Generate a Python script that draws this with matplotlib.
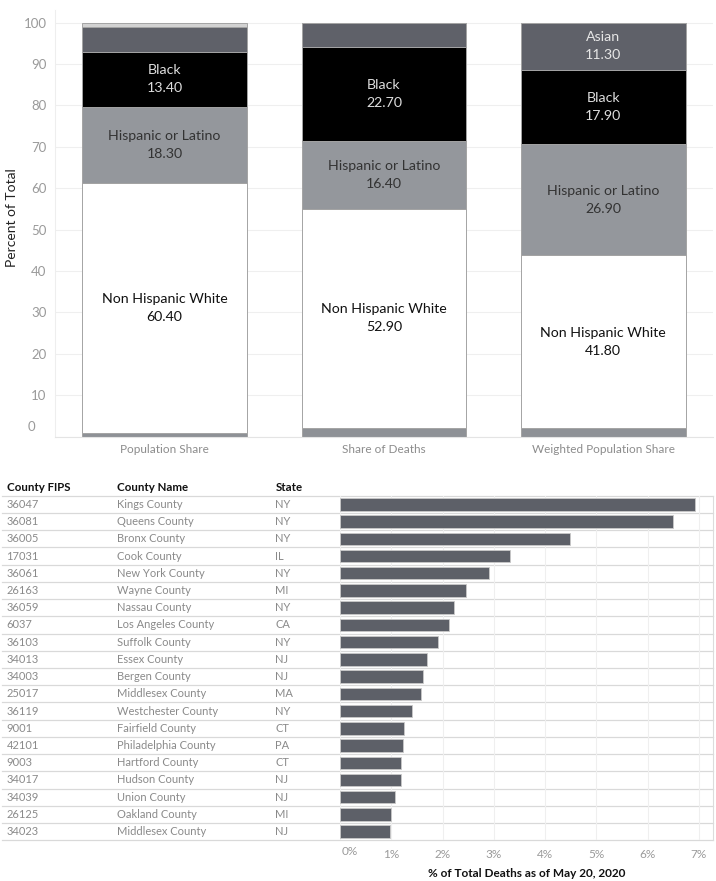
import numpy as np
import matplotlib
matplotlib.use("Agg")
import matplotlib.pyplot as plt
from matplotlib.transforms import blended_transform_factory
from matplotlib.lines import Line2D

plt.rcParams['font.family'] = ['Lato', 'DejaVu Sans']

# --- top chart data (percent of total) ---
categories = ["Population Share", "Share of Deaths", "Weighted Population Share"]
other_bottom = [0.9, 2.2, 2.0]
white = [60.4, 52.9, 41.8]
hispanic = [18.3, 16.4, 26.9]
black = [13.4, 22.7, 17.9]
asian = [5.9, 5.8, 11.3]
other_top = [1.1, 0.0, 0.1]

# --- bottom table data ---
fips = ["36047", "36081", "36005", "17031", "36061", "26163", "36059", "6037", "36103", "34013",
        "34003", "25017", "36119", "9001", "42101", "9003", "34017", "34039", "26125", "34023"]
county = ["Kings County", "Queens County", "Bronx County", "Cook County", "New York County",
          "Wayne County", "Nassau County", "Los Angeles County", "Suffolk County", "Essex County",
          "Bergen County", "Middlesex County", "Westchester County", "Fairfield County",
          "Philadelphia County", "Hartford County", "Hudson County", "Union County",
          "Oakland County", "Middlesex County"]
state = ["NY", "NY", "NY", "IL", "NY", "MI", "NY", "CA", "NY", "NJ",
         "NJ", "MA", "NY", "CT", "PA", "CT", "NJ", "NJ", "MI", "NJ"]
deaths_pct = [6.92, 6.50, 4.49, 3.32, 2.90, 2.46, 2.23, 2.12, 1.92, 1.69,
              1.62, 1.57, 1.40, 1.25, 1.23, 1.19, 1.18, 1.07, 1.00, 0.98]

W, H = 716, 881
fig = plt.figure(figsize=(W / 100, H / 100), dpi=100)

# ================= top stacked bars =================
ax = fig.add_axes([55 / W, (H - 436.7) / H, 658 / W, 426.7 / H])
x = np.arange(len(categories))
segs = [
    ("Other", other_bottom, "#8e9196", None),
    ("Non Hispanic White", white, "#ffffff", "#111111"),
    ("Hispanic or Latino", hispanic, "#94979c", "#333333"),
    ("Black", black, "#000000", "#dddddd"),
    ("Asian", asian, "#5f6169", "#e6e6e6"),
    ("Other2", other_top, "#d2d2d2", None),
]
bottom = np.zeros(len(categories))
for name, vals, col, tcol in segs:
    vals = np.array(vals)
    ax.bar(x, vals, 0.75, bottom=bottom, color=col, edgecolor="#a4a4a4", linewidth=0.7, zorder=2)
    if tcol is not None:
        for i, v in enumerate(vals):
            if v >= 10:
                ax.text(x[i], bottom[i] + v / 2, f"{name}\n{v:.2f}", ha="center", va="center",
                        color=tcol, fontsize=10.2, linespacing=1.6, zorder=3)
    bottom += vals

ax.set_xlim(-0.5, 2.5)
ax.set_ylim(0, 103.04)
ax.set_yticks(np.arange(0, 101, 10))
ax.set_yticklabels([""] + [str(v) for v in range(10, 101, 10)])
ax.text(-0.03, 2.3, "0", transform=blended_transform_factory(ax.transAxes, ax.transData),
        ha="right", va="center", color="#9a9a9a", fontsize=9.5)
ax.tick_params(axis="y", length=0, pad=6, labelcolor="#9a9a9a", labelsize=9.5)
ax.set_xticks(x)
ax.set_xticklabels(categories)
ax.tick_params(axis="x", length=0, pad=5, labelcolor="#8c8c8c", labelsize=8.5)
ax.grid(axis="y", color="#efefef", linewidth=0.8, zorder=0)
for s in ["top", "right"]:
    ax.spines[s].set_visible(False)
ax.spines["left"].set_color("#eeeeee")
ax.spines["bottom"].set_color("#e4e4e4")
fig.text(12 / W, 1 - 218 / H, "Percent of Total", rotation=90, ha="center", va="center",
         fontsize=10, color="#222222")

# ================= bottom table + bars =================
bx = fig.add_axes([340 / W, (H - 840.3) / H, 373.3 / W, 344.6 / H])
rows = np.arange(len(fips)) + 0.5
bx.barh(rows, deaths_pct, 0.72, color="#5d6068", edgecolor="#c9c9c9", linewidth=0.6, zorder=2)
bx.set_xlim(0, 7.28)
bx.set_ylim(len(fips), 0)
bx.set_yticks([])
bx.set_xticks(np.arange(0, 8))
bx.set_xticklabels([""] + [f"{v}%" for v in range(1, 8)])
bx.tick_params(axis="x", length=0, pad=6, labelcolor="#9a9a9a", labelsize=8.5)
bx.text(0.005, -6 / 344.6, "0%", transform=bx.transAxes, ha="left", va="top",
        color="#9a9a9a", fontsize=8.5)
bx.grid(axis="x", color="#efefef", linewidth=0.8, zorder=0)
for s in ["top", "left", "bottom"]:
    bx.spines[s].set_visible(False)
bx.spines["right"].set_color("#dcdcdc")
bx.set_xlabel("% of Total Deaths as of May 20, 2020", fontsize=8.5, fontweight="bold",
              color="#111111", labelpad=6)

tr = blended_transform_factory(fig.transFigure, bx.transData)
for r in range(len(fips) + 1):
    bx.add_line(Line2D([2 / W, 713 / W], [r, r], transform=tr, color="#d9d9d9",
                       linewidth=0.9, clip_on=False, zorder=1))

cols_x = [6.5 / W, 117 / W, 275.5 / W]
headers = ["County FIPS", "County Name", "State"]
for cx, hd in zip(cols_x, headers):
    bx.text(cx, -0.5, hd, transform=tr, ha="left", va="center", fontsize=8.3,
            fontweight="bold", color="#111111", clip_on=False)
for i in range(len(fips)):
    for cx, val in zip(cols_x, [fips[i], county[i], state[i]]):
        bx.text(cx, rows[i], val, transform=tr, ha="left", va="center", fontsize=8,
                color="#8a8a8a", clip_on=False)

fig.savefig("out.png", dpi=100)
